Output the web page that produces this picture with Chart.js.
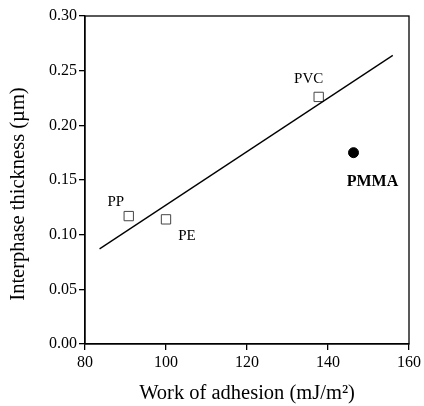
<!DOCTYPE html>
<html>
<head>
<meta charset="utf-8">
<script src="https://cdn.jsdelivr.net/npm/chart.js@4/dist/chart.umd.min.js"></script>
<style>
  html, body { margin: 0; padding: 0; background: #fff; }
  #wrap { width: 424px; height: 406px; }
</style>
</head>
<body>
<div id="wrap"><canvas id="chart" width="424" height="406"></canvas></div>
<script>
// polymer points (open squares)
const polymers = ['PP', 'PE', 'PVC'];
const adhesion = [90.8, 100.0, 137.7];
const thickness = [0.117, 0.114, 0.226];

// PMMA (filled circle)
const pmmaName = ['PMMA'];
const pmmaAdhesion = [146.3];
const pmmaThickness = [0.175];

// linear fit line
const fitX = [83.6, 156.0];
const fitY = [0.087, 0.264];

const xTicks = [80, 100, 120, 140, 160];
const yTicks = [0, 0.05, 0.10, 0.15, 0.20, 0.25, 0.30];

const yTitle = 'Interphase thickness (\u00b5m)';
const xTitle = 'Work of adhesion (mJ/m²)';

const serif = '"Liberation Serif", "DejaVu Serif", serif';

// label offsets next to each point
const labelOffsets = {
    'PP': [-13, -14],
    'PE': [21, 17],
    'PVC': [-10, -18],
    'PMMA': [19, 29]
};

const frameAndLabels = {
    id: 'frameAndLabels',
    afterDatasetsDraw(chart) {
        const ctx = chart.ctx;
        const a = chart.chartArea;
        ctx.save();
        ctx.strokeStyle = '#000';
        ctx.lineWidth = 1.3;
        ctx.strokeRect(a.left, a.top, a.right - a.left, a.bottom - a.top);

        ctx.fillStyle = '#000';
        ctx.textAlign = 'center';
        ctx.textBaseline = 'middle';
        chart.data.datasets.forEach((ds, i) => {
            if (!ds.names) return;
            const meta = chart.getDatasetMeta(i);
            meta.data.forEach((pt, j) => {
                const name = ds.names[j];
                const off = labelOffsets[name] || [0, 0];
                ctx.font = ds.boldLabel ? 'bold 16px ' + serif : '15px ' + serif;
                ctx.fillText(name, pt.x + off[0], pt.y + off[1]);
            });
        });

        // y axis title, sits a bit below the middle of the plot like the original
        ctx.font = '20.5px ' + serif;
        ctx.translate(19, (a.top + a.bottom) / 2 + 14);
        ctx.rotate(-Math.PI / 2);
        ctx.fillText(yTitle, 0, 0);
        ctx.restore();
    }
};

new Chart(document.getElementById('chart'), {
    type: 'scatter',
    data: {
        datasets: [
            {
                label: 'fit',
                type: 'line',
                data: fitX.map((x, i) => ({ x: x, y: fitY[i] })),
                borderColor: '#000',
                borderWidth: 1.3,
                pointRadius: 0,
                fill: false
            },
            {
                label: 'polymers',
                names: polymers,
                data: adhesion.map((x, i) => ({ x: x, y: thickness[i] })),
                pointStyle: 'rect',
                pointRadius: 6.6,
                pointBackgroundColor: '#fff',
                pointBorderColor: '#444',
                pointBorderWidth: 1
            },
            {
                label: 'PMMA',
                names: pmmaName,
                boldLabel: true,
                data: pmmaAdhesion.map((x, i) => ({ x: x, y: pmmaThickness[i] })),
                pointStyle: 'circle',
                pointRadius: 5,
                pointBackgroundColor: '#000',
                pointBorderColor: '#000'
            }
        ]
    },
    options: {
        responsive: false,
        animation: false,
        layout: { padding: { top: 16, right: 13, left: 0, bottom: 0 } },
        plugins: { legend: { display: false }, tooltip: { enabled: false } },
        scales: {
            x: {
                type: 'linear',
                min: 80, max: 160,
                afterBuildTicks: s => { s.ticks = xTicks.map(v => ({ value: v })); },
                afterFit: s => { s.height = 62; },
                border: { display: true, color: '#000', width: 1.3 },
                grid: { drawOnChartArea: false, drawTicks: true, tickLength: 6, color: '#000', lineWidth: 1.3 },
                ticks: { color: '#000', font: { family: serif, size: 16 }, padding: 3 },
                title: {
                    display: true,
                    text: xTitle,
                    color: '#000',
                    font: { family: serif, size: 20.5 },
                    padding: { top: 6, bottom: 0 }
                }
            },
            y: {
                type: 'linear',
                min: 0, max: 0.30,
                afterBuildTicks: s => { s.ticks = yTicks.map(v => ({ value: v })); },
                afterFit: s => { s.width = 85; },
                border: { display: true, color: '#000', width: 1.3 },
                grid: { drawOnChartArea: false, drawTicks: true, tickLength: 6, color: '#000', lineWidth: 1.3 },
                ticks: {
                    color: '#000',
                    font: { family: serif, size: 16 },
                    padding: 2,
                    callback: v => v.toFixed(2)
                },
                title: { display: false }
            }
        }
    },
    plugins: [frameAndLabels]
});
</script>
</body>
</html>
